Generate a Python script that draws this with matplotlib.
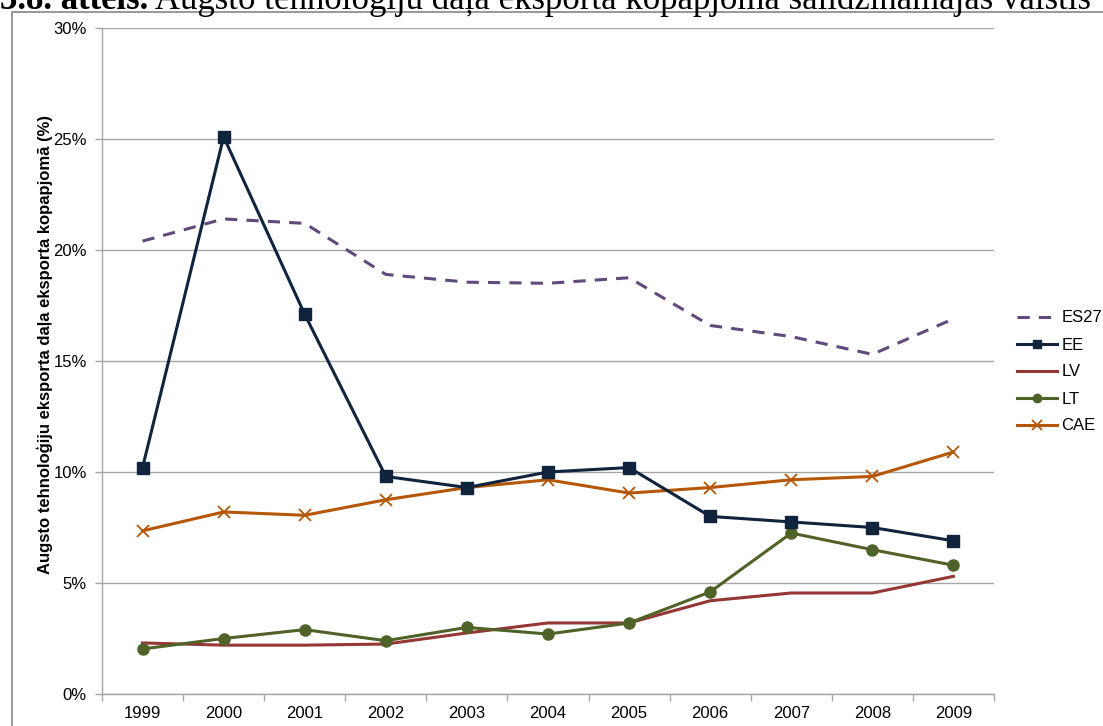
import matplotlib.pyplot as plt
import numpy as np
from matplotlib.patches import Rectangle
from matplotlib.ticker import FixedLocator, PercentFormatter

years = ["1999", "2000", "2001", "2002", "2003", "2004", "2005", "2006", "2007", "2008", "2009"]
es27 = [20.4, 21.4, 21.2, 18.9, 18.55, 18.5, 18.75, 16.6, 16.1, 15.3, 16.9]
ee = [10.2, 25.1, 17.1, 9.8, 9.3, 10.0, 10.2, 8.0, 7.75, 7.5, 6.9]
lv = [2.3, 2.2, 2.2, 2.25, 2.75, 3.2, 3.2, 4.2, 4.55, 4.55, 5.3]
lt = [2.03, 2.5, 2.9, 2.4, 3.0, 2.7, 3.2, 4.6, 7.25, 6.5, 5.8]
cae = [7.35, 8.2, 8.05, 8.75, 9.3, 9.65, 9.05, 9.3, 9.65, 9.8, 10.9]

title_bold = "3.8. attēls."
title_rest = " Augsto tehnoloģiju daļa eksporta kopapjomā salīdzināmajās valstīs"
ylabel = "Augsto tehnoloģiju eksporta daļa eksporta kopapjomā (%)"

plt.rcParams["font.family"] = ["Liberation Sans", "DejaVu Sans"]

W, H = 1103, 726
fig = plt.figure(figsize=(W / 100, H / 100), dpi=100)
ax = fig.add_axes([102 / W, 1 - 694 / H, (994 - 102) / W, (694 - 28) / H])

x = np.arange(len(years))
grid_c = "#a6a6a6"

ax.plot(x, es27, color="#604a7b", lw=2.2, ls=(0, (4, 3)), label="ES27", zorder=3)
ax.plot(x, ee, color="#10243e", lw=2.2, marker="s", ms=8, label="EE", zorder=4)
ax.plot(x, lv, color="#953735", lw=2.2, label="LV", zorder=3)
ax.plot(x, lt, color="#4f6228", lw=2.2, marker="o", ms=8, label="LT", zorder=3)
ax.plot(x, cae, color="#b65708", lw=2.2, marker="x", ms=9, mew=1.3, label="CAE", zorder=3)

ax.set_xlim(-0.5, len(years) - 0.5)
ax.set_ylim(0, 30)
ax.yaxis.set_major_locator(FixedLocator([0, 5, 10, 15, 20, 25, 30]))
ax.yaxis.set_major_formatter(PercentFormatter(decimals=0))
ax.set_xticks(x)
ax.set_xticklabels(years)
ax.xaxis.set_minor_locator(FixedLocator(np.arange(-0.5, len(years), 1.0)))
ax.tick_params(axis="x", which="major", length=0, pad=9, labelsize=12)
ax.tick_params(axis="x", which="minor", length=5, color=grid_c, width=1)
ax.tick_params(axis="y", length=5, color=grid_c, width=1, labelsize=12, pad=6)
ax.grid(axis="y", color=grid_c, lw=1)
ax.set_axisbelow(True)
for side in ["top", "right"]:
    ax.spines[side].set_visible(False)
for side in ["left", "bottom"]:
    ax.spines[side].set_color(grid_c)
    ax.spines[side].set_linewidth(1)

fig.text(45 / W, 1 - 345 / H, ylabel, rotation=90, ha="center", va="center",
         fontsize=12, fontweight="bold")

ax.legend(loc="center left", bbox_to_anchor=(1.0, 1 - (372 - 28) / (694 - 28)),
          frameon=False, fontsize=12, handlelength=2.4, handletextpad=0.25,
          labelspacing=0.72, borderaxespad=1.0, markerscale=0.75)

# outer chart border (partly cropped in the reference)
fig.patches.append(Rectangle((12 / W, -0.05), 1.2, 1 - 12 / H + 0.05,
                             transform=fig.transFigure, fill=False,
                             edgecolor="#868686", lw=1.2))

# cropped title at the top, as in the reference
t = fig.text(0.0, 1 - 9 / H, title_bold, fontsize=25, fontweight="bold",
             family="Liberation Serif", va="baseline", ha="left")
fig.canvas.draw()
bb = t.get_window_extent()
fig.text(bb.x1 / W, 1 - 9 / H, title_rest, fontsize=25,
         family="Liberation Serif", va="baseline", ha="left")

fig.savefig("out.png", dpi=100)
